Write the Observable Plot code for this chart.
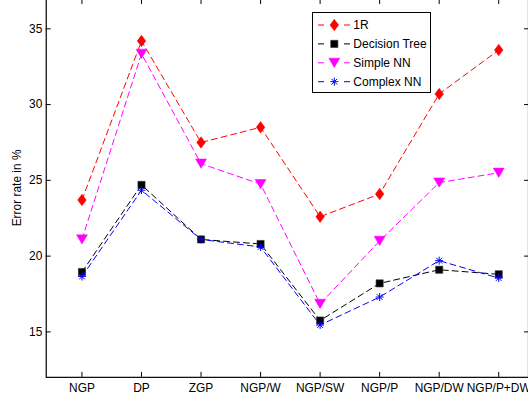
<!DOCTYPE html>
<html>
<head>
<meta charset="utf-8">
<script src="https://cdn.jsdelivr.net/npm/d3@7"></script>
<script src="https://cdn.jsdelivr.net/npm/@observablehq/plot@0.6"></script>
<style>
  html, body { margin: 0; padding: 0; background: white; overflow: hidden; width: 528px; height: 401px; }
  #chart { position: absolute; left: 0; top: -2px; }
  #legend { position: absolute; left: 312px; top: 12px; }
  svg { font-family: "Liberation Sans", Arial, sans-serif; }
</style>
</head>
<body>
<div id="chart"></div>
<div id="legend"></div>
<script>
const categories = ["NGP", "DP", "ZGP", "NGP/W", "NGP/SW", "NGP/P", "NGP/DW", "NGP/P+DW"];
const oneR         = [23.7, 34.2, 27.5, 28.5, 22.6, 24.1, 30.7, 33.6];
const decisionTree = [18.95, 24.7, 21.1, 20.8, 15.75, 18.2, 19.1, 18.8];
const simpleNN     = [21.1, 33.35, 26.1, 24.75, 16.85, 21.0, 24.85, 25.5];
const complexNN    = [18.65, 24.35, 21.1, 20.6, 15.45, 17.3, 19.7, 18.55];
const seriesNames  = ["1R", "Decision Tree", "Simple NN", "Complex NN"];
const yTicks       = [15, 20, 25, 30, 35];

// custom MATLAB-like markers
const diamondTall = { draw(ctx, size) { const r = Math.sqrt(size / Math.PI);
  ctx.moveTo(0, -r * 1.35); ctx.lineTo(r, 0); ctx.lineTo(0, r * 1.35); ctx.lineTo(-r, 0); ctx.closePath(); } };
const squareM = { draw(ctx, size) { const r = Math.sqrt(size / Math.PI);
  ctx.moveTo(-r, -r); ctx.lineTo(r, -r); ctx.lineTo(r, r); ctx.lineTo(-r, r); ctx.closePath(); } };
const triDown = { draw(ctx, size) { const r = Math.sqrt(size / Math.PI);
  ctx.moveTo(-r, -0.85 * r); ctx.lineTo(r, -0.85 * r); ctx.lineTo(0, 0.85 * r); ctx.closePath(); } };
const asterisk = { draw(ctx, size) { const r = Math.sqrt(size / Math.PI); const d = r * 0.72;
  ctx.moveTo(-r, 0); ctx.lineTo(r, 0); ctx.moveTo(0, -r); ctx.lineTo(0, r);
  ctx.moveTo(-d, -d); ctx.lineTo(d, d); ctx.moveTo(-d, d); ctx.lineTo(d, -d); } };

const styles = [
  { name: seriesNames[0], values: oneR, color: "#ff0000", symbol: diamondTall, r: 4.3, fill: "#ff0000", stroke: "#ff0000", sw: 0.5 },
  { name: seriesNames[1], values: decisionTree, color: "#000000", symbol: squareM, r: 3.6, fill: "#000000", stroke: "#333", sw: 0.6 },
  { name: seriesNames[2], values: simpleNN, color: "#ff00ff", symbol: triDown, r: 5.5, fill: "#ff00ff", stroke: "#ff00ff", sw: 0.5 },
  { name: seriesNames[3], values: complexNN, color: "#0000ff", symbol: asterisk, r: 4, fill: "none", stroke: "#0000ff", sw: 1 }
];

const xIdx = categories.map((c, i) => i + 1);
const seriesMarks = styles.flatMap(s => {
  const data = s.values.map((v, i) => ({ x: i + 1, y: v }));
  return [
    Plot.line(data, { x: "x", y: "y", stroke: s.color, strokeWidth: 1, strokeDasharray: "6,4" }),
    Plot.dot(data, { x: "x", y: "y", symbol: s.symbol, r: s.r, fill: s.fill, stroke: s.stroke, strokeWidth: s.sw })
  ];
});

const chart = Plot.plot({
  width: 531,
  height: 403,
  marginLeft: 46,
  marginRight: 0,
  marginTop: 0,
  marginBottom: 22,
  style: { fontFamily: "'Liberation Sans', Arial, sans-serif", fontSize: "12px", background: "white", overflow: "visible", color: "black" },
  x: { domain: [0.4, 8.5] },
  y: { domain: [12, 37] },
  marks: [
    Plot.frame({ stroke: "black", strokeWidth: 1.2 }),
    Plot.axisX({ anchor: "bottom", ticks: xIdx, tickFormat: d => categories[d - 1], tickSize: -5, tickPadding: 11, label: null, fontSize: 12 }),
    Plot.axisX({ anchor: "top", ticks: xIdx, tickFormat: () => "", tickSize: -5, label: null }),
    Plot.axisY({ anchor: "left", ticks: yTicks, tickSize: -5, tickPadding: 9, label: null, fontSize: 12 }),
    Plot.axisY({ anchor: "right", ticks: yTicks, tickFormat: () => "", tickSize: -5, label: null }),
    Plot.text(["Error rate in %"], { text: d => d, frameAnchor: "left", textAnchor: "middle", rotate: -90, dx: -29, fontSize: 12, fill: "black" }),
    ...seriesMarks
  ]
});
document.getElementById("chart").appendChild(chart);

// legend
const L = d3.select("#legend").append("svg").attr("width", 122).attr("height", 84)
  .style("font-family", "'Liberation Sans', Arial, sans-serif").style("font-size", "12px");
L.append("rect").attr("x", 0.5).attr("y", 0.5).attr("width", 118).attr("height", 80)
  .attr("fill", "white").attr("stroke", "black").attr("stroke-width", 1);
styles.forEach((s, i) => {
  const cy = 13 + i * 18.9;
  const g = L.append("g");
  [[6, 12], [32, 38]].forEach(([a, b]) =>
    g.append("line").attr("x1", a).attr("x2", b).attr("y1", cy).attr("y2", cy)
      .attr("stroke", s.color).attr("stroke-width", 1));
  g.append("path").attr("d", d3.symbol(s.symbol, Math.PI * s.r * s.r)())
    .attr("transform", `translate(22.3,${cy})`)
    .attr("fill", s.fill).attr("stroke", s.stroke).attr("stroke-width", s.sw);
  g.append("text").attr("x", 41.3).attr("y", cy).attr("dy", "0.35em").attr("fill", "black").text(s.name);
});
</script>
</body>
</html>
